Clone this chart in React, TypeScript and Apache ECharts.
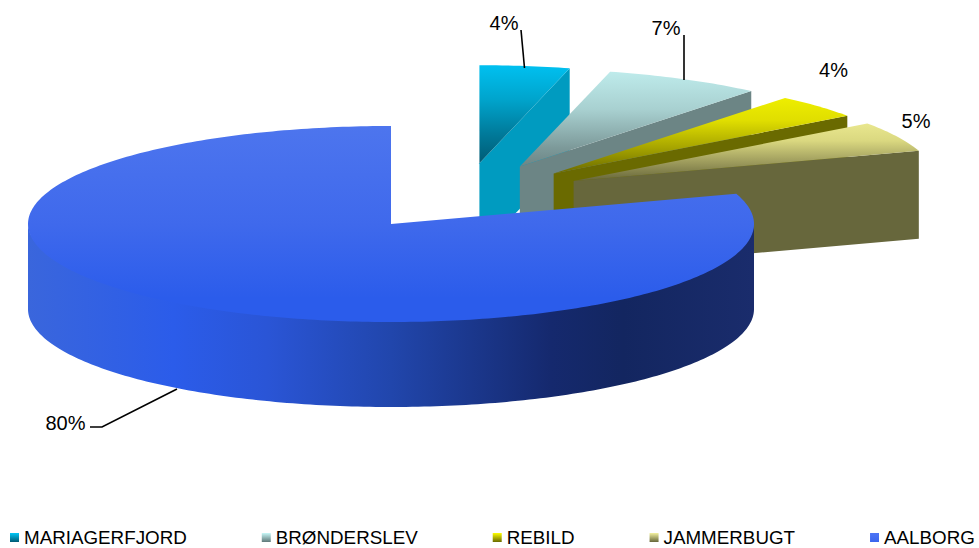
import React, { useEffect, useRef } from "react";
import * as echarts from "echarts";

const names = ["MARIAGERFJORD", "BRØNDERSLEV", "REBILD", "JAMMERBUGT", "AALBORG"];
const values = [4, 7, 4, 5, 80];

// Layout of the drawn pie
const CX = 391, CY = 224, RX = 363, RY = 98, DEPTH = 85, EXPLODED_DEPTH = 88;
const FONT = "'Liberation Sans', Arial, sans-serif";
const total = values.reduce((a, b) => a + b, 0);
const startAngles = values.map((_, i) => (values.slice(0, i).reduce((a, b) => a + b, 0) / total) * 2 * Math.PI);

const topStops: [number, string][][] = [
  [[0, "#00C0F0"], [0.35, "#00A4CC"], [0.7, "#007A9A"], [1, "#005A74"]],
  [[0, "#BEEBEB"], [0.4, "#A8D0D0"], [0.8, "#7D9A9A"], [1, "#6C8585"]],
  [[0, "#EEEE00"], [0.3, "#E0DE00"], [0.65, "#A8A600"], [1, "#6A6A00"]],
  [[0, "#E9E78E"], [0.3, "#DAD880"], [0.7, "#99975A"], [1, "#66663A"]],
  [[0, "#4D75EE"], [0.5, "#3F69EC"], [0.88, "#2B5CEB"], [1, "#2B5CEB"]],
];
const wallColors = ["#009BC0", "#6C8585", "#6A6A00", "#67673C", ""];
const legendStops: [number, string][][] = [
  [[0, "#00C8F8"], [1, "#005A74"]],
  [[0, "#C8F8F8"], [1, "#5F7878"]],
  [[0, "#FFFF00"], [1, "#6A6A00"]],
  [[0, "#F4F2A0"], [1, "#66663A"]],
  [[0, "#4D75F5"], [1, "#3A66EE"]],
];
const frontWallStops: [number, string][] = [
  [0, "#3A66DC"], [0.2, "#2B5CEA"], [0.33, "#2A55D6"], [0.5, "#2146AC"],
  [0.72, "#15296E"], [0.82, "#132660"], [1, "#1A2C6C"],
];
const labelAnchors: [number, number][] = [[504, 23], [666, 28], [833.5, 70], [916, 121], [65.5, 423]];
const leaders: [number, number][][] = [
  [[521, 30], [524.5, 68]],
  [[684, 35], [684, 80]],
  [],
  [],
  [[90, 427], [102, 427], [177, 389]],
];

const vGrad = (stops: [number, string][]) =>
  new echarts.graphic.LinearGradient(0, 0, 0, 1, stops.map(([offset, color]) => ({ offset, color })));
const hGrad = (stops: [number, string][]) =>
  new echarts.graphic.LinearGradient(0, 0, 1, 0, stops.map(([offset, color]) => ({ offset, color })));

const arc = (ox: number, oy: number, a0: number, a1: number, dy = 0) => {
  const n = Math.max(2, Math.ceil(Math.abs(a1 - a0) * 60));
  const pts: number[][] = [];
  for (let k = 0; k <= n; k++) {
    const a = a0 + ((a1 - a0) * k) / n;
    pts.push([ox + RX * Math.sin(a), oy - RY * Math.cos(a) + dy]);
  }
  return pts;
};

const renderSlice = (params: any, api: any) => {
  const i = params.seriesIndex;
  const value = api.value(0);
  const a0 = startAngles[i];
  const a1 = a0 + (value / total) * 2 * Math.PI;
  const mid = (a0 + a1) / 2;
  // The small slices are pulled out together, and each along its own bisector
  const exploded = value / total < 0.5;
  const ox = CX + (exploded ? 73 + 123 * Math.sin(mid) : 0);
  const oy = CY - (exploded ? 28 + 33 * Math.cos(mid) : 0);
  const children: any[] = [];

  if (exploded) {
    const e = [ox + RX * Math.sin(a1), oy - RY * Math.cos(a1)];
    children.push({
      type: "polygon",
      shape: { points: [[ox, oy], e, [e[0], e[1] + EXPLODED_DEPTH], [ox, oy + EXPLODED_DEPTH]] },
      style: { fill: wallColors[i] },
    });
  } else {
    const front0 = Math.max(a0, Math.PI / 2);
    const front1 = Math.min(a1, (3 * Math.PI) / 2);
    // the upper edge runs slightly under the top face, so that no seam shows
    const upper = arc(ox, oy, front0, front1, -1.5);
    const lower = arc(ox, oy, front1, front0, DEPTH);
    children.push({
      type: "polygon",
      shape: { points: [...upper, ...lower] },
      style: { fill: hGrad(frontWallStops) },
    });
  }
  children.push({
    type: "polygon",
    shape: { points: [[ox, oy], ...arc(ox, oy, a0, a1)] },
    style: { fill: vGrad(topStops[i]) },
  });
  if (leaders[i].length) {
    children.push({
      type: "polyline",
      shape: { points: leaders[i] },
      style: { stroke: "#000", lineWidth: 1.6, fill: "none" },
    });
  }
  children.push({
    type: "text",
    style: {
      text: `${Math.round((value / total) * 100)}%`,
      x: labelAnchors[i][0],
      y: labelAnchors[i][1],
      align: "center",
      verticalAlign: "middle",
      fontFamily: FONT,
      fontSize: 20,
      fill: "#000",
    },
  });
  return { type: "group", children };
};

export default function App() {
  const ref = useRef<HTMLDivElement>(null);
  useEffect(() => {
    const chart = echarts.init(ref.current!, undefined, { renderer: "svg" });
    chart.setOption({
      animation: false,
      backgroundColor: "#fff",
      legend: {
        left: 10,
        top: 528,
        padding: 0,
        itemWidth: 9,
        itemHeight: 9,
        itemGap: 75,
        icon: "rect",
        selectedMode: false,
        textStyle: { fontFamily: FONT, fontSize: 18.8, color: "#000" },
        data: names.map((name, i) => ({ name, itemStyle: { color: vGrad(legendStops[i]) } })),
      },
      series: names.map((name, i) => ({
        type: "custom",
        name,
        coordinateSystem: "none",
        silent: true,
        z: i + 2,
        data: [[values[i]]],
        renderItem: renderSlice,
      })),
    });
    return () => chart.dispose();
  }, []);
  return <div ref={ref} style={{ position: "absolute", left: 0, top: 0, width: 979, height: 548 }} />;
}
